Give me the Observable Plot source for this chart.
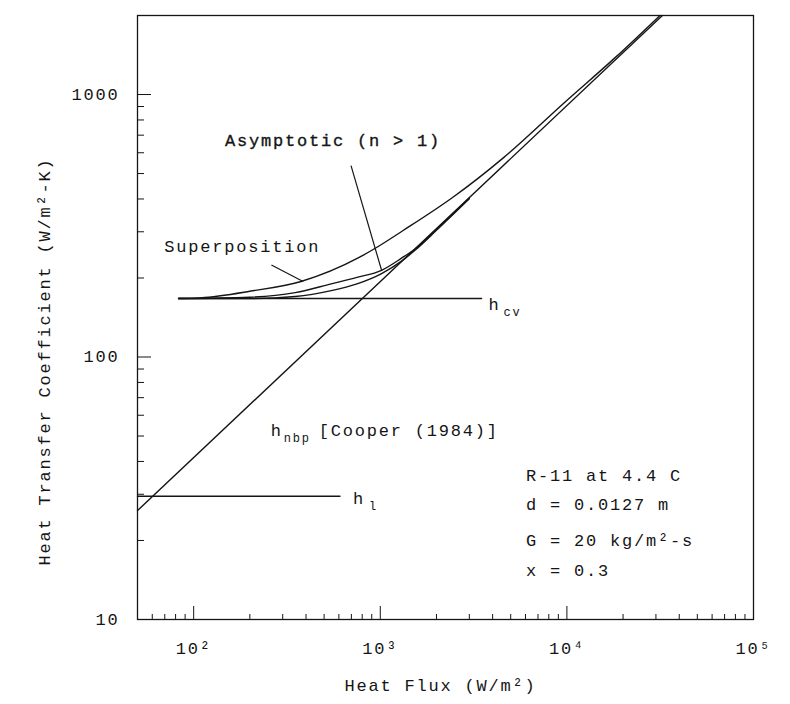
<!DOCTYPE html>
<html><head><meta charset="utf-8">
<script src="https://cdn.jsdelivr.net/npm/d3@7"></script>
<script src="https://cdn.jsdelivr.net/npm/@observablehq/plot@0.6"></script>
<style>body{margin:0;background:#fff}</style>
</head><body><div id="chart"></div>
<script>
// ---- axes ----
const xDomain = [50, 100000];
const yDomain = [10, 2000];
const xMajorTicks = [100, 1000, 10000, 100000];
const xTickLabels = ["10²", "10³", "10⁴", "10⁵"];
const xMinorTicks = [60, 70, 80, 90, 200, 300, 400, 500, 600, 700, 800, 900,
  2000, 3000, 4000, 5000, 6000, 7000, 8000, 9000,
  20000, 30000, 40000, 50000, 60000, 70000, 80000, 90000];
const yMajorTicks = [10, 100, 1000];
const yTickLabels = ["10", "100", "1000"];
const yMinorTicks = [20, 30, 40, 50, 60, 70, 80, 90, 200, 300, 400, 500, 600, 700, 800, 900];

// ---- curves (heat flux W/m², h W/m²-K) ----
const fluxCv = [83, 3490];
const hCv = [167, 167];
const fluxL = [50, 608];
const hL = [29.5, 29.5];
const fluxNbp = [50, 32500];
const hNbp = [26, 2000];
const fluxSup = [83, 109, 200, 376, 766, 935, 1313, 2450, 4580, 9750, 18200, 31500];
const hSup = [167, 168, 178, 194, 239, 259, 302, 406, 575, 935, 1385, 2000];
const fluxAsym = [83, 200, 350, 546, 750, 1016, 1300, 1535, 2000, 3000];
const hAsym1 = [167, 169, 176, 190, 201, 214, 238, 258, 307, 403];
const hAsym2 = [167, 167, 170, 179, 190, 208, 232, 255, 304, 401];

// ---- annotation pointers ----
const asymPointerFlux = [697, 1016];
const asymPointerH = [536, 214];
const supPointerFlux = [261, 386];
const supPointerH = [224, 194];

// ---- labels ----
const labelTexts = ["Asymptotic (n > 1)", "Superposition", "h", "h", "[Cooper (1984)]", "h"];
const labelFlux = [147, 69.5, 3800, 259, 259, 715];
const labelH = [667, 264, 159, 52.6, 52.6, 29];
const labelDx = [0, 0, 0, 0, 48, 0];
const labelStroke = [0.35, 0, 0, 0, 0, 0];
const subTexts = ["cv", "nbp", "l"];
const subFlux = [3800, 259, 715];
const subH = [159, 52.6, 29];
const subDx = [15, 13, 16];
const infoLines = ["R-11 at 4.4 C", "d = 0.0127 m", "G = 20 kg/m²-s", "x = 0.3"];
const infoFlux = [6040, 6040, 6040, 6040];
const infoH = [35.5, 27.5, 20, 15.4];

const rows = (xs, ys) => xs.map((x, i) => ({x, y: ys[i]}));
const ink = "#151515";
const lineOpts = {x: "x", y: "y", stroke: ink, strokeWidth: 1.4};
const labelMap = new Map(xMajorTicks.map((d, i) => [d, xTickLabels[i]]));
const yLabelMap = new Map(yMajorTicks.map((d, i) => [d, yTickLabels[i]]));

const labelMarks = labelTexts.map((t, i) => Plot.text([t], {
  x: () => labelFlux[i], y: () => labelH[i], text: d => d,
  dx: labelDx[i], textAnchor: "start", fontSize: 17, fill: ink,
  stroke: labelStroke[i] ? ink : "none", strokeWidth: labelStroke[i]}));
const subMarks = subTexts.map((t, i) => Plot.text([t], {
  x: () => subFlux[i], y: () => subH[i], text: d => d,
  dx: subDx[i], dy: 8, textAnchor: "start", fontSize: 12, fill: ink}));

const chart = Plot.plot({
  width: 790,
  height: 704,
  marginLeft: 137,
  marginRight: 37,
  marginTop: 15,
  marginBottom: 85,
  style: {fontFamily: "'Liberation Mono', 'DejaVu Sans Mono', monospace", letterSpacing: "1.8px", color: ink, background: "#fff"},
  x: {type: "log", domain: xDomain, axis: null},
  y: {type: "log", domain: yDomain, axis: null},
  marks: [
    Plot.frame({stroke: ink, strokeWidth: 1.3}),
    // x ticks (inward)
    Plot.axisX(xMinorTicks, {anchor: "bottom", tickSize: -5, fill: "none", label: null, stroke: ink}),
    Plot.axisX(xMajorTicks.slice(0, 3), {anchor: "bottom", tickSize: -13, fill: "none", label: null, stroke: ink}),
    Plot.axisX(xMajorTicks, {anchor: "bottom", tickSize: 0, tickPadding: 22, label: null, fontSize: 17,
      tickFormat: d => labelMap.get(d)}),
    // y ticks (inward)
    Plot.axisY(yMinorTicks, {anchor: "left", tickSize: -7, fill: "none", label: null, stroke: ink}),
    Plot.axisY(yMajorTicks, {anchor: "left", tickSize: -14, fill: "none", label: null, stroke: ink}),
    Plot.axisY(yMajorTicks, {anchor: "left", tickSize: 0, tickPadding: 18, label: null, fontSize: 17,
      tickFormat: d => yLabelMap.get(d)}),
    // curves
    Plot.line(rows(fluxL, hL), lineOpts),
    Plot.line(rows(fluxCv, hCv), lineOpts),
    Plot.line(rows(fluxNbp, hNbp), lineOpts),
    Plot.line(rows(fluxAsym, hAsym2), {...lineOpts, curve: "monotone-x"}),
    Plot.line(rows(fluxAsym, hAsym1), {...lineOpts, curve: "monotone-x"}),
    Plot.line(rows(fluxSup, hSup), {...lineOpts, curve: "monotone-x"}),
    // pointers
    Plot.link([0], {x1: () => asymPointerFlux[0], y1: () => asymPointerH[0], x2: () => asymPointerFlux[1], y2: () => asymPointerH[1], stroke: ink, strokeWidth: 1.2}),
    Plot.link([0], {x1: () => supPointerFlux[0], y1: () => supPointerH[0], x2: () => supPointerFlux[1], y2: () => supPointerH[1], stroke: ink, strokeWidth: 1.2}),
    // labels
    ...labelMarks,
    ...subMarks,
    Plot.text(infoLines, {x: (d, i) => infoFlux[i], y: (d, i) => infoH[i], text: d => d,
      textAnchor: "start", fontSize: 17, fill: ink}),
    // axis titles
    Plot.text(["Heat Flux (W/m²)"], {frameAnchor: "bottom", dx: -5, dy: 71, text: d => d, textAnchor: "middle", fontSize: 17, fill: ink}),
    Plot.text(["Heat Transfer Coefficient (W/m²-K)"], {frameAnchor: "left", dx: -93, dy: 44, rotate: -90, text: d => d, textAnchor: "middle", fontSize: 17, fill: ink})
  ]
});
document.getElementById("chart").append(chart);
</script>
</body></html>
